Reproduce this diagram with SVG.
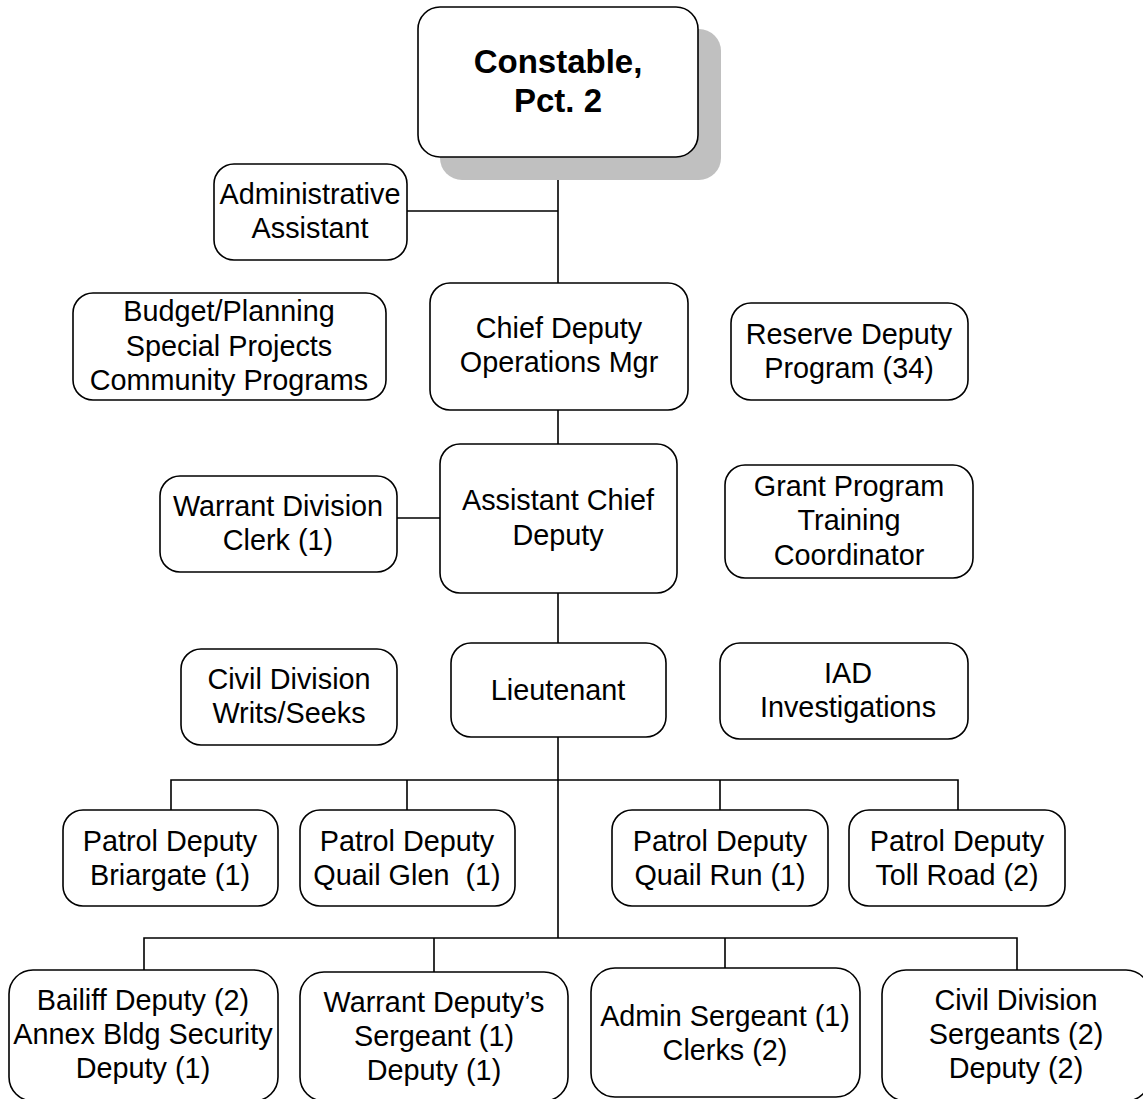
<svg xmlns="http://www.w3.org/2000/svg" width="1143" height="1099" viewBox="0 0 1143 1099">
<style>
.box{fill:#fff;stroke:#000;stroke-width:1.6}
.t{font-family:"Liberation Sans",Arial,sans-serif;font-size:28.8px;text-anchor:middle;fill:#000}
.b{font-family:"Liberation Sans",Arial,sans-serif;font-size:33px;font-weight:bold;text-anchor:middle;fill:#000}
.c{fill:none;stroke:#000;stroke-width:1.6}
</style>
<rect width="1143" height="1099" fill="#fff"/>
<g id="connectors">
<path class="c" d="M558 157V283M407 211H558M558 410V444M397 518H440M558 593V643M558 737V938M171 810V780H958V810M407 780V810M720 780V810M144 970V938H1017V970M434 938V972M725 938V968"/>
</g>
<g id="constable">
<rect x="440" y="29" width="281" height="151" rx="22" fill="#c0c0c0"/>
<rect class="box" x="418" y="7" width="280" height="150" rx="22"/>
<text class="b" x="558" y="73">Constable,</text>
<text class="b" x="558" y="112">Pct. 2</text>
</g>
<g id="admin-assistant">
<rect class="box" x="214" y="164" width="193" height="96" rx="20"/>
<text class="t" x="310" y="204">Administrative</text>
<text class="t" x="310" y="238">Assistant</text>
</g>
<g id="budget">
<rect class="box" x="73" y="293" width="313" height="107" rx="20"/>
<text class="t" x="229" y="321">Budget/Planning</text>
<text class="t" x="229" y="356">Special Projects</text>
<text class="t" x="229" y="390">Community Programs</text>
</g>
<g id="chief-deputy">
<rect class="box" x="430" y="283" width="258" height="127" rx="20"/>
<text class="t" x="559" y="338">Chief Deputy</text>
<text class="t" x="559" y="372">Operations Mgr</text>
</g>
<g id="reserve">
<rect class="box" x="731" y="303" width="237" height="97" rx="20"/>
<text class="t" x="849" y="344">Reserve Deputy</text>
<text class="t" x="849" y="378">Program (34)</text>
</g>
<g id="warrant-clerk">
<rect class="box" x="160" y="476" width="237" height="96" rx="20"/>
<text class="t" x="278" y="516">Warrant Division</text>
<text class="t" x="278" y="550">Clerk (1)</text>
</g>
<g id="assistant-chief">
<rect class="box" x="440" y="444" width="237" height="149" rx="20"/>
<text class="t" x="558" y="510">Assistant Chief</text>
<text class="t" x="558" y="545">Deputy</text>
</g>
<g id="grant">
<rect class="box" x="725" y="465" width="248" height="113" rx="20"/>
<text class="t" x="849" y="496">Grant Program</text>
<text class="t" x="849" y="530">Training</text>
<text class="t" x="849" y="565">Coordinator</text>
</g>
<g id="civil-writs">
<rect class="box" x="181" y="649" width="216" height="96" rx="20"/>
<text class="t" x="289" y="689">Civil Division</text>
<text class="t" x="289" y="723">Writs/Seeks</text>
</g>
<g id="lieutenant">
<rect class="box" x="451" y="643" width="215" height="94" rx="20"/>
<text class="t" x="558" y="700">Lieutenant</text>
</g>
<g id="iad">
<rect class="box" x="720" y="643" width="248" height="96" rx="20"/>
<text class="t" x="848" y="683">IAD</text>
<text class="t" x="848" y="717">Investigations</text>
</g>
<g id="patrol-briargate">
<rect class="box" x="63" y="810" width="215" height="96" rx="20"/>
<text class="t" x="170" y="851">Patrol Deputy</text>
<text class="t" x="170" y="885">Briargate (1)</text>
</g>
<g id="patrol-quail-glen">
<rect class="box" x="300" y="810" width="215" height="96" rx="20"/>
<text class="t" x="407" y="851">Patrol Deputy</text>
<text class="t" x="407" y="885" xml:space="preserve">Quail Glen  (1)</text>
</g>
<g id="patrol-quail-run">
<rect class="box" x="612" y="810" width="216" height="96" rx="20"/>
<text class="t" x="720" y="851">Patrol Deputy</text>
<text class="t" x="720" y="885">Quail Run (1)</text>
</g>
<g id="patrol-toll-road">
<rect class="box" x="849" y="810" width="216" height="96" rx="20"/>
<text class="t" x="957" y="851">Patrol Deputy</text>
<text class="t" x="957" y="885">Toll Road (2)</text>
</g>
<g id="bailiff">
<rect class="box" x="9" y="970" width="269" height="131" rx="24"/>
<text class="t" x="143" y="1010">Bailiff Deputy (2)</text>
<text class="t" x="143" y="1044">Annex Bldg Security</text>
<text class="t" x="143" y="1078">Deputy (1)</text>
</g>
<g id="warrant-deputy">
<rect class="box" x="300" y="972" width="268" height="129" rx="24"/>
<text class="t" x="434" y="1012">Warrant Deputy’s</text>
<text class="t" x="434" y="1046">Sergeant (1)</text>
<text class="t" x="434" y="1080">Deputy (1)</text>
</g>
<g id="admin-sergeant">
<rect class="box" x="591" y="968" width="269" height="129" rx="24"/>
<text class="t" x="725" y="1026">Admin Sergeant (1)</text>
<text class="t" x="725" y="1060">Clerks (2)</text>
</g>
<g id="civil-sergeants">
<rect class="box" x="882" y="970" width="268" height="131" rx="24"/>
<text class="t" x="1016" y="1010">Civil Division</text>
<text class="t" x="1016" y="1044">Sergeants (2)</text>
<text class="t" x="1016" y="1078">Deputy (2)</text>
</g>
</svg>
